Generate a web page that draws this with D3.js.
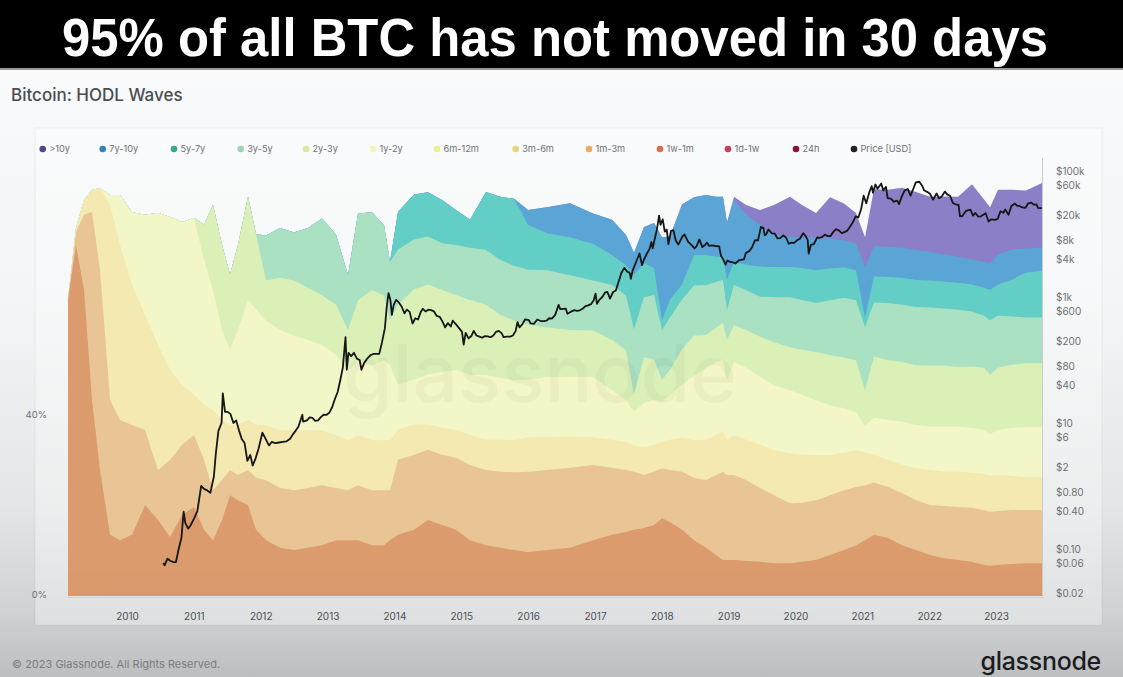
<!DOCTYPE html>
<html><head><meta charset="utf-8">
<script src="https://cdn.jsdelivr.net/npm/d3@7"></script>
<style>html,body{margin:0;padding:0;width:1123px;height:677px;overflow:hidden;background:#f4f6f7}svg{display:block}</style>
</head><body><svg id="c" width="1123" height="677"></svg>
<script>
// ---------------- DATA ----------------
const title = "95% of all BTC has not moved in 30 days";
const chartName = "Bitcoin: HODL Waves";
const legendLabels = [">10y","7y-10y","5y-7y","3y-5y","2y-3y","1y-2y","6m-12m","3m-6m","1m-3m","1w-1m","1d-1w","24h","Price [USD]"];
const stackKeys = ["24h","1d-1w","1w-1m","1m-3m","3m-6m","6m-12m","1y-2y","2y-3y","3y-5y","5y-7y","7y-10y",">10y"];
const yearTicks = [2010,2011,2012,2013,2014,2015,2016,2017,2018,2019,2020,2021,2022,2023];
const pctTicks = [0,40];
const priceTicks = [100000,60000,20000,8000,4000,1000,600,200,80,40,10,6,2,0.8,0.4,0.1,0.06,0.02];

const dates = [2009.117,2009.237,2009.357,2009.476,2009.596,2009.746,2009.895,
2010.075,2010.269,2010.464,2010.643,2010.823,
2011.002,2011.152,2011.286,2011.421,2011.541,2011.660,2011.810,2011.930,
2012.079,2012.289,2012.498,2012.708,2012.917,
2013.126,2013.306,2013.456,2013.665,2013.844,2013.934,
2014.054,2014.293,2014.503,2014.712,2014.921,
2015.131,2015.370,2015.580,2015.789,2015.999,
2016.283,2016.627,2016.971,
2017.255,2017.464,2017.584,2017.734,2017.883,
2018.003,2018.123,2018.302,2018.482,2018.661,2018.811,2018.915,2018.975,
2019.080,2019.260,2019.469,2019.678,2019.918,
2020.097,2020.307,2020.516,2020.726,2020.905,
2021.040,2021.174,2021.384,2021.593,2021.803,
2022.012,2022.221,2022.431,2022.640,2022.820,2022.910,
2023.029,2023.238,2023.448,2023.687];

// share of supply (%) per age band
const s24h = [1,1,1,1,1,0.5,0.5,0.5,0.5,0.5, 0.5,0.5,0.5,0.5,0.5,0.5,0.5,0.5,0.5,0.5, 0.5,0.5,0.5,0.5,0.5,0.5,0.5,0.5,0.5,0.5, 0.5,0.5,0.5,0.5,0.5,0.5,0.5,0.5,0.5,0.5, 0.5,0.5,0.5,0.5,0.5,0.5,0.5,0.5,0.5,0.5, 0.5,0.5,0.5,0.5,0.5,0.5,0.5,0.5,0.5,0.5, 0.5,0.5,0.5,0.5,0.5,0.5,0.5,0.5,0.5,0.5, 0.5,0.5,0.5,0.5,0.5,0.5,0.5,0.5,0.5,0.5, 0.5,0.5];
const s1d1w = [2,2,2,2,1.5,1.5,1.5,1.5,1.5,1.5, 1.5,1.5,1.5,1.5,1.5,1.5,1.5,1.5,1.5,1.5, 1.5,1.5,1.5,1.5,1.5,1.5,1.5,1.5,1.5,1.5, 1.5,1.5,1.5,1.5,1.5,1.5,1.5,1.5,1.5,1.5, 1.5,1.5,1.5,1.5,1.5,1.5,1.5,1.5,1.5,1.5, 1.5,1.5,1.5,1.5,1.5,1.5,1.5,1.5,1.5,1.5, 1.5,1.5,1.5,1.5,1.5,1.5,1.5,1.5,1.5,1.5, 1.5,1.5,1.5,1.5,1.5,1.5,1.5,1.5,1.5,1.5, 1.5,1.5];
const s1w1m = [2,2,2,2,2.5,3,3,3,3,3, 3,3,3,3,3,3,3,3,3,3, 3,3,3,3,3,3,3,3,3,3, 3,3,3,3,3,3,3,3,3,3, 3,3,3,3,3,3,3,3,3,3, 3,3,3,3,3,3,3,3,3,3, 3,3,3,3,3,3,3,3,3,3, 3,3,3,3,3,3,3,3,3,3, 3,3];
const s1m3m = [60.8,73,63,38.6,23,8.6,7.4,8.6,15.2,11.9, 8.1,13,14.8,9.7,7.4,11.9,17.4,16.3,15.2,9.7, 7.4,5.7,5.2,5.7,6.3,7.4,7.4,7.4,6.3,6.3, 7.4,8.6,9.7,11.9,10.8,9.7,7.4,6.3,5.7,5.2, 4.8,5.2,5.7,7.4,8.6,9.2,9.7,10.1,10.8,12.3, 11.4,9.7,7.4,5.7,4.1,3,3,3,2.8,2.6, 2.3,2.3,2.6,3,4.1,5.2,6.3,7.4,8.6,7.9, 6.3,5.2,4.1,3.4,3,2.6,1.9,1.7,1.9,2.1, 2.3,2.3];
const s3m6m = [0,2.9,16.7,41.8,44.4,30,26.7,24.4,16.7,11.1, 17.1,15.6,16,15.6,11.1,8.9,5.6,5.6,7.8,11.6, 13.3,13.3,13.3,13.3,13.3,11.6,11.1,12.2,12.2,12.2, 11.1,16.7,16.7,15.6,15.6,16,16.7,16.7,16.9,17.3, 17.8,17.8,17.8,16.7,14.9,13.8,12.9,11.8,11.8,11.1, 11.6,12.9,13.8,15.1,17.8,19.6,18.9,18.9,18,16.4, 15.1,13.3,13.1,13.3,13.3,13.3,12.9,12.2,11.6,11.3, 11.6,11.1,11.1,11.6,11.8,12,12.2,12,12,12, 11.8,11.8];
const s6m12m = [0,0.9,3.3,4.9,18.2,43.3,38.9,31.1,25.6,27.8, 20,13.3,8.9,12.2,17.8,13.3,10,11.1,11.1,11.8, 12.2,12.9,13.3,12.9,12.2,11.8,11.1,11.1,11.1,11.1, 11.1,6.7,6.7,5.6,6,6.2,6.7,6.7,7.1,7.1, 7.6,7.3,6.9,6.2,6.2,6.2,5.8,6.2,6,5.8, 6.7,7.6,8.4,8.9,8.9,8.9,7.8,8.9,8.9,9.6, 10,11.1,10.7,10,8.9,8.4,8.2,7.3,6.2,6, 6.2,7.1,7.8,7.6,7.8,7.8,8,8,8,7.6, 7.3,7.3];
const s1y2y = [0,0,0,0,0,2.2,11.1,16.2,22.2,29.3, 34,36.2,39.3,32.2,26.7,20,16.7,21.1,26.7,25.6, 23.3,22.2,21.1,20,18.9,17.8,15.6,16.7,16.7,17.8, 16.7,10,10,11.1,12.4,13.3,13.3,14.4,13.8,13.3, 12.9,13.3,13.3,13.3,11.1,9.3,7.6,9.8,10,8.9, 10,11.8,14.4,16,16.2,16,13.3,16.2,16,15.1, 14.4,14,13.3,12.2,11.1,9.8,8.4,6,8.2,8.9, 9.6,9.6,9.6,10,10,10,9.8,9.3,10,10.7, 11.1,11.1];
const s2y3y = [0,0,0,0,0,0,0,0,0,0, 0,0,0,7.8,18.9,18.9,16.7,18.9,22.9,16.7, 8.9,11.6,12.2,11.6,11.1,11.1,8.9,13.3,16.7,14.4, 10,17.8,20,20,18.2,16.7,16.7,15.6,14,13.3, 12.2,11.1,10.4,10.4,11.1,11.1,3.8,10.2,8.9,4.9, 5.6,7.8,8.9,7.3,7.6,8.2,8.9,8.2,8.4,8.9, 9.6,9.6,10,10.7,11.1,11.3,11.6,7.8,13.6,13.3, 13.3,13.3,13.6,13.6,13.3,13.6,13.8,13.1,13.8,14, 14.2,14.2];
const s3y5y = [0,0,0,0,0,0,0,0,0,0, 0,0,0,0,0,0,0,0,0,0, 10,11.1,10.7,13.3,17.1,15.6,12.2,19.3,17.3,15.6, 12.9,12.2,11.1,10.7,10.4,11.1,11.6,12.2,12.2,12.2, 12.2,12.7,12.2,11.1,12.2,12.2,14.4,13.3,14.4,11.1, 11.6,11.1,11.1,11.1,10.2,9.6,6.7,8.9,8.9,8.9, 10,11.1,11.1,10.9,12.2,13.3,13.3,14,12,12.7, 12.7,12.9,12.9,12.7,12.7,12.2,11.6,12.2,11.6,10.7, 10.2,10.2];
const s5y7y = [0,0,0,0,0,0,0,0,0,0, 0,0,0,0,0,0,0,0,0,0, 0,0,0,0,0,0,0,0,0,0, 0,8.4,10,9.8,9.6,7.8,6.2,12.9,14,14.9, 10,8.2,8.4,8.2,6.7,6.7,12.2,7.6,6,2.2, 4,3.3,6.7,6.7,5.6,5.1,6.7,5.1,5.6,6.7, 6.7,6.7,7.1,7.3,7.1,6.7,6.7,2.2,5.8,5.8, 6,6,6,6,6,6,6.2,6.7,6.9,8.2, 10,10.4];
const s7y10y = [0,0,0,0,0,0,0,0,0,0, 0,0,0,0,0,0,0,0,0,0, 0,0,0,0,0,0,0,0,0,0, 0,0,0,0,0,0,0,0,0,0, 3.3,5.8,7.6,6.7,7.8,6.7,4.9,8,10,18.4, 14,17.8,12.9,13.3,13.3,13.3,12.7,13.8,11.1,9.3, 7.1,6.7,6.9,7.1,6.7,6,6,11.1,6.7,6.7, 6.7,6.7,6.4,6,5.8,5.6,5.8,6,6.7,6.7, 5.3,5.1];
const s10y = [0,0,0,0,0,0,0,0,0,0, 0,0,0,0,0,0,0,0,0,0, 0,0,0,0,0,0,0,0,0,0, 0,0,0,0,0,0,0,0,0,0, 0,0,0,0,0,0,0,0,0,0, 0,0,0,0,0,0,0,0.7,2.2,3.3, 6.7,8.9,7.1,5.6,9.1,8.2,6.7,6.7,12.7,12.7, 13.3,12.9,12.2,12.9,13.3,16.7,13.8,12.4,14.4,13.3, 12.9,14.4];

const priceDates = ["2010-07-18","2010-07-25","2010-08-10","2010-08-25","2010-09-10","2010-09-25","2010-10-10","2010-10-25","2010-11-06","2010-11-15","2010-12-01","2010-12-15",
"2011-01-01","2011-01-20","2011-02-10","2011-02-25","2011-03-15","2011-04-01","2011-04-20","2011-05-01","2011-05-15","2011-06-01","2011-06-08","2011-06-20","2011-07-05","2011-07-20","2011-08-05","2011-08-20","2011-09-05","2011-09-20","2011-10-05","2011-10-20","2011-11-05","2011-11-18","2011-12-05","2011-12-20",
"2012-01-10","2012-01-25","2012-02-15","2012-03-01","2012-03-20","2012-04-10","2012-05-01","2012-05-20","2012-06-10","2012-06-25","2012-07-10","2012-07-25","2012-08-16","2012-08-20","2012-09-10","2012-09-25","2012-10-10","2012-10-25","2012-11-10","2012-11-25","2012-12-10","2012-12-25",
"2013-01-10","2013-01-25","2013-02-10","2013-02-25","2013-03-10","2013-03-25","2013-04-09","2013-04-16","2013-04-25","2013-05-10","2013-05-25","2013-06-10","2013-06-25","2013-07-05","2013-07-20","2013-08-05","2013-08-25","2013-09-10","2013-09-25","2013-10-10","2013-10-25","2013-11-10","2013-11-20","2013-11-30","2013-12-10","2013-12-18","2013-12-28",
"2014-01-10","2014-01-25","2014-02-10","2014-02-25","2014-03-10","2014-03-25","2014-04-10","2014-04-25","2014-05-10","2014-05-25","2014-06-05","2014-06-20","2014-07-05","2014-07-20","2014-08-05","2014-08-20","2014-09-05","2014-09-20","2014-10-05","2014-10-20","2014-11-05","2014-11-15","2014-12-01","2014-12-20",
"2015-01-05","2015-01-14","2015-01-25","2015-02-10","2015-02-25","2015-03-10","2015-03-25","2015-04-10","2015-04-25","2015-05-10","2015-05-25","2015-06-10","2015-06-25","2015-07-10","2015-07-25","2015-08-10","2015-08-20","2015-09-05","2015-09-25","2015-10-10","2015-10-25","2015-11-04","2015-11-15","2015-12-01","2015-12-15",
"2016-01-05","2016-01-15","2016-02-01","2016-02-20","2016-03-10","2016-03-25","2016-04-10","2016-04-25","2016-05-10","2016-05-28","2016-06-16","2016-06-25","2016-07-10","2016-07-25","2016-08-03","2016-08-20","2016-09-10","2016-09-25","2016-10-10","2016-10-25","2016-11-10","2016-11-25","2016-12-10","2016-12-25",
"2017-01-04","2017-01-12","2017-01-25","2017-02-10","2017-02-25","2017-03-10","2017-03-24","2017-04-10","2017-04-25","2017-05-10","2017-05-25","2017-06-10","2017-06-25","2017-07-10","2017-07-16","2017-07-25","2017-08-10","2017-08-25","2017-09-01","2017-09-15","2017-09-25","2017-10-10","2017-10-25","2017-11-05","2017-11-12","2017-11-25","2017-12-05","2017-12-17","2017-12-25",
"2018-01-06","2018-01-17","2018-01-28","2018-02-06","2018-02-20","2018-03-05","2018-03-18","2018-04-01","2018-04-25","2018-05-05","2018-05-25","2018-06-10","2018-06-29","2018-07-10","2018-07-25","2018-08-10","2018-08-25","2018-09-05","2018-09-15","2018-10-01","2018-10-20","2018-11-10","2018-11-20","2018-12-01","2018-12-15","2018-12-25",
"2019-01-10","2019-01-25","2019-02-07","2019-02-25","2019-03-10","2019-03-25","2019-04-05","2019-04-25","2019-05-10","2019-05-25","2019-06-10","2019-06-26","2019-07-10","2019-07-17","2019-07-25","2019-08-06","2019-08-25","2019-09-10","2019-09-25","2019-10-10","2019-10-26","2019-11-10","2019-11-25","2019-12-10","2019-12-25",
"2020-01-10","2020-01-25","2020-02-12","2020-02-25","2020-03-08","2020-03-13","2020-03-25","2020-04-10","2020-04-29","2020-05-10","2020-05-25","2020-06-10","2020-06-25","2020-07-10","2020-07-28","2020-08-10","2020-08-25","2020-09-10","2020-09-25","2020-10-10","2020-10-25","2020-11-10","2020-11-25","2020-12-10","2020-12-25",
"2021-01-08","2021-01-22","2021-02-08","2021-02-21","2021-02-28","2021-03-13","2021-03-25","2021-04-14","2021-04-25","2021-05-10","2021-05-19","2021-06-05","2021-06-22","2021-07-10","2021-07-20","2021-08-05","2021-08-20","2021-09-06","2021-09-21","2021-10-05","2021-10-20","2021-11-08","2021-11-25","2021-12-04","2021-12-20",
"2022-01-05","2022-01-22","2022-02-10","2022-02-24","2022-03-10","2022-03-28","2022-04-10","2022-04-25","2022-05-10","2022-05-25","2022-06-10","2022-06-18","2022-07-01","2022-07-20","2022-08-14","2022-08-28","2022-09-10","2022-09-25","2022-10-10","2022-10-28","2022-11-05","2022-11-21","2022-12-05","2022-12-25",
"2023-01-10","2023-01-25","2023-02-10","2023-02-20","2023-03-10","2023-03-25","2023-04-14","2023-04-25","2023-05-10","2023-05-25","2023-06-10","2023-06-25","2023-07-13","2023-07-25","2023-08-10","2023-08-18","2023-09-01","2023-09-08"];
const priceValues = [0.06,0.055,0.07,0.065,0.062,0.062,0.1,0.15,0.39,0.26,0.21,0.24,
0.3,0.4,1.0,0.9,0.85,0.78,1.4,3.3,7.5,10,29.6,15,15,13.8,10,11,7.5,5.5,4.8,2.5,3.1,2.1,2.8,3.9,
7,5.8,4.4,5,4.8,4.9,5,5.1,5.6,6.6,7.5,8.7,13.5,10.5,11,12.3,12,10.8,11,12.4,13.5,13.4,
14.5,17.5,24,31,46,75,230,70,130,115,130,105,100,70,90,105,120,125,125,125,190,320,700,1150,900,520,750,
900,820,700,550,630,580,380,460,440,580,650,590,630,620,590,500,485,410,330,385,340,420,375,320,
280,175,270,220,240,290,245,235,225,240,237,230,245,280,290,265,230,235,235,245,290,400,330,370,440,
430,380,375,440,415,415,420,460,455,520,750,640,650,655,540,580,620,600,615,650,715,735,770,890,
1130,780,900,1000,1180,1200,940,1200,1270,1750,2400,2900,2550,2400,1950,2600,3400,4350,4900,3200,3900,4800,5700,7400,5900,8800,11700,19500,14000,
17100,10900,11700,6900,11200,11500,7900,6800,9300,9800,7500,6800,5900,6400,8200,6200,6700,7300,6500,6600,6450,6350,4500,4000,3250,3800,
3600,3550,3400,3800,3900,3950,5000,5400,6300,8000,7900,12900,12500,9500,9900,11800,10200,10100,8500,8600,9500,8800,7000,7300,7200,
8000,8400,10300,9300,8000,4900,6700,6900,8800,8700,8900,9800,9250,9250,11000,11900,11400,10300,10700,11300,13000,15300,19000,18300,24700,
40500,30800,46000,57500,45200,61000,52300,63500,49000,56000,37000,36500,32500,33900,29800,40000,49300,51700,40600,51400,66000,67500,57300,49400,46700,
43500,35100,44000,37000,39400,47100,42200,40400,31000,29600,29000,19000,19300,23200,24300,19600,21600,18900,19100,20600,21300,15800,17100,16800,
17400,23000,21700,24500,20200,27500,30400,28300,27600,26400,25900,30500,31400,29200,29400,26000,25800,25900];

// ---------------- STYLE ----------------
const fillColors = {"24h":"#d9996c","1d-1w":"#da9a6c","1w-1m":"#da9a6d","1m-3m":"#db9b6d","3m-6m":"#e9c595","6m-12m":"#f4e9b0",
  "1y-2y":"#f3f6c6","2y-3y":"#dbf0b7","3y-5y":"#abe1c3","5y-7y":"#63cec6","7y-10y":"#5ba4d6",">10y":"#8b7fc7"};
const dotColors = {">10y":"#51458f","7y-10y":"#3182bd","5y-7y":"#36ab91","3y-5y":"#9ed3b0","2y-3y":"#d6eca0","1y-2y":"#f3f6b8",
  "6m-12m":"#f1ee90","3m-6m":"#e6d47a","1m-3m":"#eea866","1w-1m":"#dd6b4f","1d-1w":"#cc3b58","24h":"#8e0d3f","Price [USD]":"#222"};
const legendX = [42.7,102.7,174,240.7,306,373,437,515.7,589,660,728,796,854];

// ---------------- DRAW ----------------
const svg = d3.select("#c");
const defs = svg.append("defs");
const g1 = defs.append("linearGradient").attr("id","bg").attr("x1",0).attr("y1",0).attr("x2",0).attr("y2",1);
[[0,"#f9fbfc"],[0.45,"#f3f5f6"],[0.75,"#e3e5e6"],[0.9,"#d0d2d3"],[1,"#bcbec0"]].forEach(([o,c])=>g1.append("stop").attr("offset",o).attr("stop-color",c));
svg.append("rect").attr("x",0).attr("y",0).attr("width",1123).attr("height",677).attr("fill","url(#bg)");
// card
svg.append("rect").attr("x",35).attr("y",128).attr("width",1067).attr("height",497)
  .attr("fill","rgba(255,255,255,0.35)").attr("stroke","rgba(0,0,0,0.05)");

// title bar
svg.append("rect").attr("x",0).attr("y",0).attr("width",1123).attr("height",68).attr("fill","#000");
svg.append("rect").attr("x",0).attr("y",68).attr("width",1123).attr("height",2).attr("fill","#9a9a9a");
svg.append("text").attr("x",62).attr("y",56).attr("textLength",986).attr("lengthAdjust","spacingAndGlyphs")
  .attr("font-family","'Liberation Sans', Arial, sans-serif").attr("font-weight","bold").attr("font-size",53)
  .attr("fill","#fff").text(title);

svg.append("text").attr("x",11).attr("y",101).attr("font-family","Inter, 'Open Sans', sans-serif").attr("font-weight",500)
  .attr("font-size",17).attr("fill","#4a4d50").text(chartName);

// scales
const x = d3.scaleLinear().domain([dates[0], dates[dates.length-1]]).range([68,1042]);
const y = d3.scaleLinear().domain([0,100]).range([596,146]);
const p = d3.scaleLog().domain([0.02,100000]).range([593,171]);

// stack: each band painted from the baseline up to its cumulative top, top band first,
// so adjacent bands never leave anti-aliasing seams between them
const byKey = {"24h":s24h,"1d-1w":s1d1w,"1w-1m":s1w1m,"1m-3m":s1m3m,"3m-6m":s3m6m,"6m-12m":s6m12m,"1y-2y":s1y2y,"2y-3y":s2y3y,"3y-5y":s3y5y,"5y-7y":s5y7y,"7y-10y":s7y10y,">10y":s10y};
const table = dates.map((d,i)=>{const r={date:d}; stackKeys.forEach(k=>r[k]=byKey[k][i]); return r;});
const stacked = d3.stack().keys(stackKeys)(table);
const area = d3.area().x(d=>x(d.data.date)).y0(y(0)).y1(d=>y(d[1]));
svg.append("g").selectAll("path").data(stacked.slice().reverse()).join("path")
  .attr("d",area).attr("fill",d=>fillColors[d.key]);

// watermark
svg.append("text").attr("x",540).attr("y",402).attr("text-anchor","middle").attr("font-family","Inter, sans-serif")
  .attr("font-weight",500).attr("font-size",80).attr("fill","#000").attr("opacity",0.028).text("glassnode");

// axes lines
svg.append("line").attr("x1",1042.5).attr("x2",1042.5).attr("y1",158).attr("y2",598).attr("stroke","#c9cbcd").attr("stroke-width",1);
svg.append("line").attr("x1",68).attr("x2",1042).attr("y1",597.5).attr("y2",597.5).attr("stroke","#cfd1d3").attr("stroke-width",1);

// price line
function dec(s){const [Y,M,D]=s.split("-").map(Number);const a=Date.UTC(Y,0,1),b=Date.UTC(Y+1,0,1);return Y+(Date.UTC(Y,M-1,D)-a)/(b-a);}
const priceData = priceDates.map((d,i)=>({t:dec(d),v:priceValues[i]}));
svg.append("path").datum(priceData).attr("fill","none").attr("stroke","#161616").attr("stroke-width",1.8)
  .attr("stroke-linejoin","round").attr("d",d3.line().x(d=>x(d.t)).y(d=>p(d.v)));

// axes
const axisFont = "Inter, 'Open Sans', sans-serif";
const xa = svg.append("g").attr("transform","translate(0,610)").call(d3.axisBottom(x).tickValues(yearTicks).tickFormat(d=>String(d)).tickSize(0).tickPadding(3));
xa.select(".domain").remove();
xa.selectAll("text").attr("font-family",axisFont).attr("font-size",10).attr("fill","#4d5054");

const la = svg.append("g").attr("transform","translate(47,-2)").call(d3.axisLeft(y).tickValues(pctTicks).tickFormat(d=>d+"%").tickSize(0).tickPadding(0));
la.select(".domain").remove();
la.selectAll("text").attr("font-family",axisFont).attr("font-size",9.5).attr("fill","#6d7074");

const fmtP = v => v>=1000 ? "$"+(v/1000)+"k" : (v>=1 ? "$"+v : "$"+v.toFixed(2));
const ra = svg.append("g").attr("transform","translate(1053,0)").call(d3.axisRight(p).tickValues(priceTicks).tickFormat(fmtP).tickSize(0).tickPadding(3));
ra.select(".domain").remove();
ra.selectAll("text").attr("font-family",axisFont).attr("font-size",10).attr("fill","#6d7074");

// legend
const lg = svg.append("g");
legendLabels.forEach((k,i)=>{
  lg.append("circle").attr("cx",legendX[i]).attr("cy",149).attr("r",3.3).attr("fill",dotColors[k]);
  lg.append("text").attr("x",legendX[i]+6.5).attr("y",152.3).attr("font-family",axisFont).attr("font-size",9.2)
    .attr("fill","#6d7074").text(k);
});

// footer
svg.append("text").attr("x",12).attr("y",668).attr("font-family",axisFont).attr("font-size",11).attr("fill","#7b7e81")
  .text("© 2023 Glassnode. All Rights Reserved.");
svg.append("text").attr("x",1101).attr("y",670).attr("text-anchor","end").attr("font-family",axisFont).attr("font-weight",500)
  .attr("font-size",25).attr("letter-spacing",-0.3).attr("fill","#1c1d1f").text("glassnode");
</script></body></html>
